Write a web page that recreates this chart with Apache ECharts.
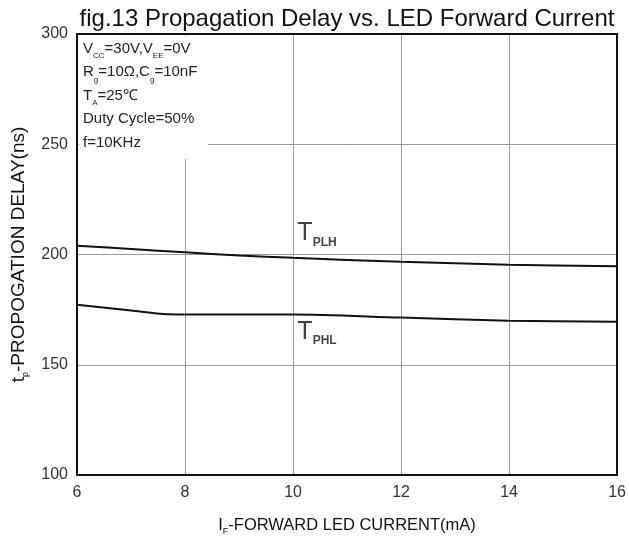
<!DOCTYPE html>
<html>
<head>
<meta charset="utf-8">
<script src="https://cdn.jsdelivr.net/npm/echarts@6/dist/echarts.min.js"></script>
<style>
  html, body { margin: 0; padding: 0; background: #fff; }
  #main { width: 629px; height: 541px; }
</style>
</head>
<body>
<div id="main"></div>
<script>
// forward current (mA) and delay (ns)
var tplhX = [6, 7, 8, 9, 10, 12, 14, 16];
var tplhY = [204, 202.5, 201, 199.6, 198.5, 196.7, 195.4, 194.7];
var tphlX = [6, 7, 7.6, 8, 10, 12, 14, 16];
var tphlY = [177.2, 174.6, 173, 172.8, 172.8, 171.4, 170, 169.5];
// curve labels: name, subscript, anchor (mA, ns)
var curveLabels = [
  { main: "T", sub: "PLH", at: [10.08, 209.5] },
  { main: "T", sub: "PHL", at: [10.08, 165] }
];

function pairs(xs, ys) {
  var out = [];
  for (var i = 0; i < xs.length; i++) out.push([xs[i], ys[i]]);
  return out;
}

var FONT = "Liberation Sans";
var chart = echarts.init(document.getElementById("main"));

var lineStyle = { color: "#111", width: 2 };

chart.setOption({
  animation: false,
  textStyle: { fontFamily: FONT },
  title: {
    text: "fig.13 Propagation Delay vs. LED Forward Current",
    left: 342,
    textAlign: "center",
    top: 2,
    textStyle: { fontFamily: FONT, fontSize: 24, fontWeight: "normal", color: "#111" }
  },
  grid: { left: 77, right: 10, top: 34, bottom: 66 },
  xAxis: [{
    type: "value",
    min: 6, max: 16, interval: 2,
    axisLine: { show: true, lineStyle: { color: "#111", width: 2 } },
    axisTick: { show: false },
    axisLabel: { color: "#333", fontSize: 16, margin: 10 },
    splitLine: { show: true, showMinLine: false, showMaxLine: false, lineStyle: { color: "#999", width: 1 } },
    name: "{n|I}{s|F}{n|-FORWARD LED CURRENT(mA)}",
    nameLocation: "middle",
    nameGap: 39,
    nameTextStyle: {
      rich: {
        n: { fontFamily: FONT, fontSize: 16.5, color: "#111", lineHeight: 22, verticalAlign: "middle" },
        s: { fontFamily: FONT, fontSize: 9, color: "#111", lineHeight: 22, verticalAlign: "bottom" }
      }
    }
  }, {
    type: "value", position: "top",
    min: 6, max: 16, interval: 2,
    axisLine: { show: true, lineStyle: { color: "#111", width: 2 } },
    axisTick: { show: false }, axisLabel: { show: false }, splitLine: { show: false }
  }],
  yAxis: [{
    type: "value",
    min: 100, max: 300, interval: 50,
    axisLine: { show: true, lineStyle: { color: "#111", width: 2 } },
    axisTick: { show: false },
    axisLabel: { color: "#333", fontSize: 16, margin: 9 },
    splitLine: { show: true, showMinLine: false, showMaxLine: false, lineStyle: { color: "#999", width: 1 } },
    name: "{n|t}{s|p}{n|-PROPOGATION DELAY(ns)}",
    nameLocation: "middle",
    nameGap: 44,
    nameTextStyle: {
      rich: {
        n: { fontFamily: FONT, fontSize: 19, color: "#111", lineHeight: 24, verticalAlign: "middle" },
        s: { fontFamily: FONT, fontSize: 9, color: "#111", lineHeight: 24, verticalAlign: "bottom" }
      }
    }
  }, {
    type: "value", position: "right",
    min: 100, max: 300, interval: 50,
    axisLine: { show: true, lineStyle: { color: "#111", width: 2 } },
    axisTick: { show: false }, axisLabel: { show: false }, splitLine: { show: false }
  }],
  graphic: [{
    type: "rect",
    left: 79, top: 36,
    shape: { width: 129, height: 123 },
    style: { fill: "#fff" },
    z: 10
  }, {
    type: "text",
    left: 83, top: 41,
    z: 11,
    style: {
      text: [
        "{n|V}{s|CC}{n|=30V,V}{s|EE}{n|=0V}",
        "{n|R}{s|g}{n|=10Ω,C}{s|g}{n|=10nF}",
        "{n|T}{s|A}{n|=25℃}",
        "{n|Duty Cycle=50%}",
        "{n|f=10KHz}"
      ].join("\n"),
      rich: {
        n: { fontFamily: FONT, fontSize: 15, fill: "#222", lineHeight: 23.5, verticalAlign: "middle" },
        s: { fontFamily: FONT, fontSize: 8, fill: "#222", lineHeight: 23.5, verticalAlign: "bottom" }
      }
    }
  }],
  series: [{
    name: "TPLH",
    type: "line",
    data: pairs(tplhX, tplhY),
    showSymbol: false,
    smooth: 0.3,
    lineStyle: lineStyle,
    z: 5
  }, {
    name: "TPHL",
    type: "line",
    data: pairs(tphlX, tphlY),
    showSymbol: false,
    smooth: 0.3,
    lineStyle: lineStyle,
    z: 5
  }, {
    name: "labels",
    type: "scatter",
    symbolSize: 0,
    silent: true,
    data: curveLabels.map(function (c) {
      return { value: c.at, main: c.main, sub: c.sub };
    }),
    label: {
      show: true,
      position: [0, 0],
      align: "left",
      verticalAlign: "middle",
      formatter: function (p) { return "{t|" + p.data.main + "}{s|" + p.data.sub + "}"; },
      rich: {
        t: { fontFamily: FONT, fontSize: 25, color: "#111", lineHeight: 30, verticalAlign: "middle" },
        s: { fontFamily: FONT, fontSize: 12, fontWeight: "bold", color: "#111", lineHeight: 30, verticalAlign: "bottom" }
      }
    }
  }]
});
</script>
</body>
</html>
